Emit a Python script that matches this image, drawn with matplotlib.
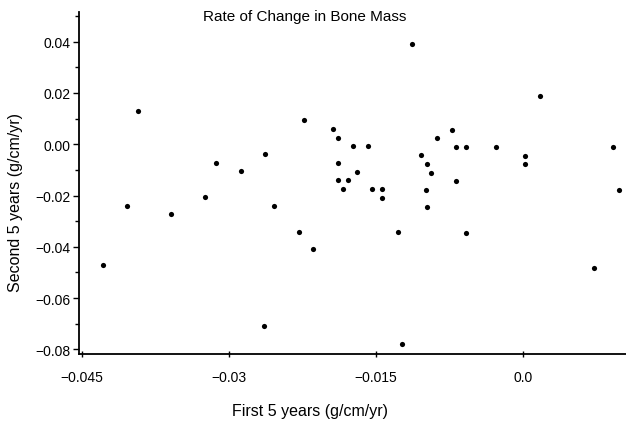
import matplotlib
matplotlib.use("Agg")
import matplotlib.pyplot as plt
from matplotlib.ticker import MultipleLocator

# -----------------------
# DATA
# -----------------------

first_5 = [
    -0.0393, -0.0313, -0.0288, -0.0113, -0.0223, -0.0194, -0.0189, -0.0174,
    -0.0158, -0.0088, -0.0263, -0.0104, -0.0189, -0.0098, -0.0169, -0.0094,
    -0.0189, -0.0179, -0.0184, -0.0154, -0.0144, -0.0099, 0.0017, -0.0073,
    -0.0068, -0.0058, -0.0028, 0.0092, 0.0002, 0.0002, -0.0068, 0.0098,
    -0.0324, -0.0404, -0.0359, -0.0429, -0.0144, -0.0254, -0.0098, -0.0229,
    -0.0128, -0.0214, -0.0264, -0.0124, -0.0058, 0.0072,
]
second_5 = [
    0.0129, -0.0072, -0.0105, 0.0390, 0.0094, 0.0060, 0.0025, -0.0008,
    -0.0007, 0.0023, -0.0039, -0.0042, -0.0074, -0.0076, -0.0107, -0.0111,
    -0.0139, -0.0139, -0.0174, -0.0174, -0.0174, -0.0178, 0.0187, 0.0056,
    -0.0011, -0.0011, -0.0012, -0.0012, -0.0046, -0.0078, -0.0144, -0.0180,
    -0.0207, -0.0240, -0.0273, -0.0472, -0.0210, -0.0241, -0.0244, -0.0342,
    -0.0343, -0.0409, -0.0710, -0.0778, -0.0345, -0.0482,
]

x_ticks = [-0.045, -0.03, -0.015, 0.0]
x_tick_labels = ["\u22120.045", "\u22120.03", "\u22120.015", "0.0"]
y_ticks = [0.04, 0.02, 0.00, -0.02, -0.04, -0.06, -0.08]
y_tick_labels = ["0.04", "0.02", "0.00", "\u22120.02", "\u22120.04", "\u22120.06", "\u22120.08"]

# -----------------------
# PLOT
# -----------------------

plt.rcParams["font.family"] = ["Liberation Sans", "DejaVu Sans"]

fig = plt.figure(figsize=(6.26, 4.27), dpi=100)
ax = fig.add_axes([0.1262, 0.1686, 0.8738, 0.8017])

ax.scatter(first_5, second_5, s=14, color="black", linewidths=0)

ax.set_xlim(-0.0453, 0.0105)
ax.set_ylim(-0.0818, 0.0517)

ax.set_xticks(x_ticks)
ax.set_xticklabels(x_tick_labels, fontsize=10)
ax.set_yticks(y_ticks)
ax.set_yticklabels(y_tick_labels, fontsize=10)
ax.yaxis.set_minor_locator(MultipleLocator(0.01))

ax.tick_params(axis="y", which="major", direction="out", length=4, width=1, pad=2)
ax.tick_params(axis="y", which="minor", direction="out", length=3, width=1)
ax.tick_params(axis="x", which="major", direction="inout", length=5, width=1, pad=9)

for side in ["top", "right"]:
    ax.spines[side].set_visible(False)
for side in ["left", "bottom"]:
    ax.spines[side].set_linewidth(1.3)

# axis labels sit off-centre in the reference, so place them on the figure
fig.text(310 / 626, 1 - 412 / 427, "First 5 years (g/cm/yr)",
         fontsize=11.5, ha="center", va="center")
fig.text(16 / 626, 1 - 203 / 427, "Second 5 years (g/cm/yr)",
         fontsize=11.5, ha="center", va="center", rotation=90)

fig.text(305 / 626, 1 - 17 / 427, "Rate of Change in Bone Mass",
         fontsize=11, ha="center", va="center")

fig.savefig("out.png", dpi=100)
